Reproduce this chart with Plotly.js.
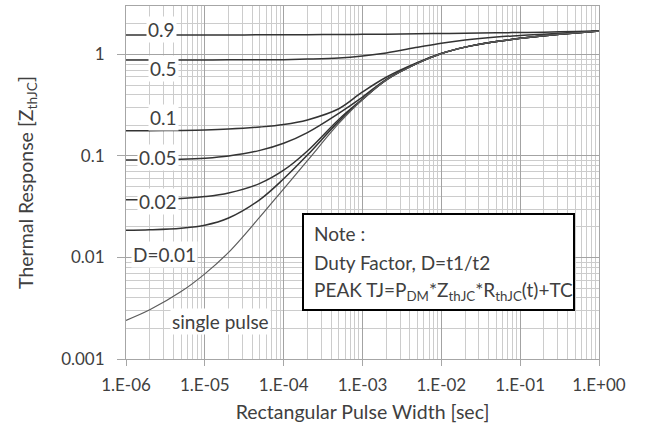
<!DOCTYPE html>
<html>
<head>
<meta charset="utf-8">
<script src="https://cdn.plot.ly/plotly-3.0.1.min.js"></script>
<style>html,body{margin:0;padding:0;background:#fff;}#chart{width:649px;height:432px;}</style>
</head>
<body>
<div id="chart"></div>
<script>
// Pulse width (sec)
const pulseWidth = [1e-6, 2e-6, 5e-6, 1e-5, 2e-5, 5e-5, 1e-4, 2e-4, 5e-4, 1e-3, 2e-3, 5e-3, 1e-2, 2e-2, 5e-2, 1e-1, 2e-1, 5e-1, 1];

// Thermal response per duty factor
const zD09    = [1.55, 1.551, 1.553, 1.555, 1.557, 1.559, 1.56, 1.565, 1.572, 1.578, 1.585, 1.597, 1.607, 1.617, 1.632, 1.645, 1.658, 1.68, 1.70];
const zD05    = [0.88, 0.88, 0.881, 0.882, 0.884, 0.886, 0.889, 0.90, 0.923, 0.966, 1.035, 1.175, 1.29, 1.39, 1.486, 1.535, 1.585, 1.65, 1.70];
const zD01    = [0.177, 0.1774, 0.1786, 0.1803, 0.184, 0.1928, 0.204, 0.2265, 0.2917, 0.427, 0.596, 0.832, 1.02, 1.18, 1.34, 1.44, 1.53, 1.63, 1.70];
const zD005   = [0.091, 0.0914, 0.0927, 0.0951, 0.100, 0.1135, 0.1334, 0.170, 0.263, 0.380, 0.569, 0.822, 1.02, 1.18, 1.34, 1.44, 1.53, 1.63, 1.70];
const zD002   = [0.0370, 0.0373, 0.0382, 0.0398, 0.0432, 0.0537, 0.0724, 0.112, 0.229, 0.363, 0.56, 0.82, 1.02, 1.18, 1.34, 1.44, 1.53, 1.63, 1.70];
const zD001   = [0.0185, 0.01875, 0.01945, 0.0208, 0.0245, 0.0372, 0.0596, 0.102, 0.219, 0.36, 0.56, 0.82, 1.02, 1.18, 1.34, 1.44, 1.53, 1.63, 1.70];
const zSingle = [0.0024, 0.00305, 0.00461, 0.0069, 0.01122, 0.0251, 0.0475, 0.0899, 0.209, 0.36, 0.56, 0.82, 1.02, 1.18, 1.34, 1.44, 1.53, 1.63, 1.70];

const xTickVals = [1e-6, 1e-5, 1e-4, 1e-3, 1e-2, 1e-1, 1];
const xTickText = ['1.E-06', '1.E-05', '1.E-04', '1.E-03', '1.E-02', '1.E-01', '1.E+00'];
const yTickVals = [0.001, 0.01, 0.1, 1];
const yTickText = ['0.001', '0.01', '0.1', '1'];

const curveLabels = ['0.9', '0.5', '0.1', '0.05', '0.02', 'D=0.01', 'single pulse'];
const noteLines = ['Note :', 'Duty Factor, D=t1/t2', 'PEAK TJ=P<sub>DM</sub>*Z<sub>thJC</sub>*R<sub>thJC</sub>(t)+TC'];

const seriesY = [zD09, zD05, zD01, zD005, zD002, zD001, zSingle];
const traces = seriesY.map((y, i) => ({
  x: pulseWidth, y: y, type: 'scatter', mode: 'lines', name: curveLabels[i],
  line: {color: i === 6 ? '#5c5c5c' : '#333333', width: i === 6 ? 1.2 : 1.5, shape: 'spline', smoothing: 1},
  hoverinfo: 'skip'
}));

const FONT = 'Lato, "Open Sans", sans-serif';
const TXT = '#404040';

// paper coordinates: plot area left 126, width 473, top 6, height 353
function px(X) { return (X - 126) / 473; }
function py(Y) { return 1 - (Y - 6) / 353; }

const labelPos = [[161, 30], [163, 68], [163, 117], [158, 157], [158, 201], [164, 254], [220, 321]];
const annotations = curveLabels.map((t, i) => ({
  text: t, xref: 'paper', yref: 'paper', x: px(labelPos[i][0]), y: py(labelPos[i][1]),
  xanchor: 'center', yanchor: 'middle', showarrow: false, bgcolor: '#ffffff', borderpad: 1,
  font: {family: FONT, size: 19, color: TXT}
}));
const noteY = [233, 262, 291];
noteLines.forEach((t, i) => annotations.push({
  text: t, xref: 'paper', yref: 'paper', x: px(312), y: py(noteY[i]),
  xanchor: 'left', yanchor: 'middle', showarrow: false,
  font: {family: FONT, size: 19, color: TXT}
}));

const layout = {
  width: 649, height: 432,
  margin: {l: 126, r: 50, t: 6, b: 73},
  paper_bgcolor: '#ffffff', plot_bgcolor: '#ffffff',
  showlegend: false,
  font: {family: FONT, size: 17, color: TXT},
  xaxis: {
    type: 'log', range: [-6, 0],
    tickmode: 'array', tickvals: xTickVals, ticktext: xTickText,
    ticks: 'outside', ticklen: 6, tickcolor: '#a6a6a6', ticklabelstandoff: 5,
    showgrid: true, gridcolor: '#a3a3a3', gridwidth: 1,
    minor: {dtick: 'D1', showgrid: true, gridcolor: '#cccccc', gridwidth: 1, ticks: ''},
    showline: true, mirror: true, linecolor: '#a6a6a6', linewidth: 1,
    zeroline: false,
    tickfont: {family: FONT, size: 17, color: TXT},
    title: {text: 'Rectangular Pulse Width [sec]', font: {family: FONT, size: 19.5, color: TXT}, standoff: 10}
  },
  yaxis: {
    type: 'log', range: [-3, Math.log10(3)],
    tickmode: 'array', tickvals: yTickVals, ticktext: yTickText,
    ticks: 'outside', ticklen: 8, tickcolor: '#a6a6a6', ticklabelstandoff: 9,
    showgrid: true, gridcolor: '#a3a3a3', gridwidth: 1,
    minor: {dtick: 'D1', showgrid: true, gridcolor: '#cccccc', gridwidth: 1, ticks: ''},
    showline: true, mirror: true, linecolor: '#a6a6a6', linewidth: 1,
    zeroline: false,
    tickfont: {family: FONT, size: 17, color: TXT},
    title: {text: 'Thermal Response [Z<sub>thJC</sub>]', font: {family: FONT, size: 19.5, color: TXT}, standoff: 22}
  },
  shapes: [{
    type: 'rect', xref: 'paper', yref: 'paper', layer: 'above',
    x0: px(303), x1: px(574), y0: py(310), y1: py(214),
    line: {color: '#000000', width: 2}, fillcolor: '#ffffff'
  }],
  annotations: annotations
};

Plotly.newPlot('chart', traces, layout, {displayModeBar: false, staticPlot: true});
</script>
</body>
</html>
